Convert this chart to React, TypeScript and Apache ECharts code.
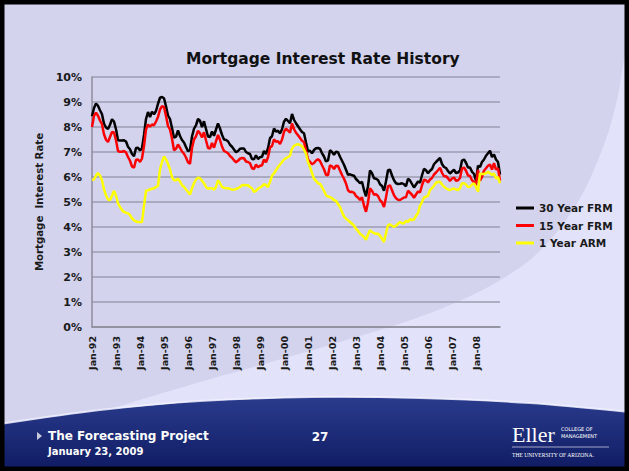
import React, { useEffect, useRef } from "react";
import * as echarts from "echarts";

const years = [1992, 1993, 1994, 1995, 1996, 1997, 1998, 1999, 2000, 2001, 2002, 2003, 2004, 2005, 2006, 2007, 2008, 2009];
const monthNames = ["Jan", "Feb", "Mar", "Apr", "May", "Jun", "Jul", "Aug", "Sep", "Oct", "Nov", "Dec"];
const yTicks = [0, 1, 2, 3, 4, 5, 6, 7, 8, 9, 10];

// 30 Year FRM, monthly, Jan-92 .. Jan-09
const frm30 = [
  8.43, 8.76, 8.94, 8.85, 8.67, 8.51, 8.13, 7.98, 7.92, 8.09, 8.31, 8.22,
  7.91, 7.47, 7.46, 7.46, 7.47, 7.42, 7.21, 7.11, 6.92, 6.83, 7.16, 7.17,
  7.06, 7.15, 7.68, 8.32, 8.6, 8.4, 8.61, 8.51, 8.64, 8.93, 9.17, 9.2,
  9.15, 8.83, 8.46, 8.32, 7.96, 7.57, 7.61, 7.86, 7.64, 7.48, 7.38, 7.2,
  7.03, 7.08, 7.62, 7.93, 8.07, 8.32, 8.25, 8.0, 8.23, 7.92, 7.62, 7.6,
  7.82, 7.65, 7.9, 8.14, 7.94, 7.69, 7.5, 7.48, 7.43, 7.29, 7.21, 7.1,
  6.99, 7.04, 7.13, 7.14, 7.14, 7.0, 6.95, 6.92, 6.72, 6.71, 6.87, 6.72,
  6.79, 6.81, 7.04, 6.92, 7.15, 7.55, 7.63, 7.94, 7.82, 7.85, 7.74, 7.91,
  8.21, 8.33, 8.24, 8.15, 8.52, 8.29, 8.15, 8.03, 7.91, 7.8, 7.75, 7.38,
  7.03, 7.05, 6.95, 7.08, 7.15, 7.16, 7.13, 6.95, 6.82, 6.62, 6.66, 7.07,
  7.0, 6.89, 7.01, 6.99, 6.81, 6.65, 6.49, 6.29, 6.09, 6.11, 6.07, 6.05,
  5.92, 5.84, 5.75, 5.81, 5.48, 5.23, 5.63, 6.26, 6.15, 5.95, 5.93, 5.88,
  5.71, 5.64, 5.45, 5.83, 6.27, 6.29, 6.06, 5.87, 5.75, 5.72, 5.73, 5.75,
  5.71, 5.63, 5.93, 5.86, 5.72, 5.58, 5.7, 5.82, 5.77, 6.07, 6.33, 6.27,
  6.15, 6.25, 6.32, 6.51, 6.6, 6.68, 6.76, 6.52, 6.4, 6.36, 6.24, 6.14,
  6.22, 6.29, 6.16, 6.18, 6.26, 6.66, 6.7, 6.57, 6.38, 6.38, 6.21, 6.12,
  5.85, 6.45, 6.4, 6.6, 6.7, 6.85, 6.95, 7.05, 6.8, 6.9, 6.7, 6.6,
  6.1,
];

// 15 Year FRM
const frm15 = [
  8.0, 8.45, 8.57, 8.45, 8.26, 8.11, 7.71, 7.49, 7.4, 7.6, 7.8, 7.78,
  7.47, 7.04, 7.01, 7.01, 7.04, 6.98, 6.8, 6.65, 6.42, 6.37, 6.69, 6.7,
  6.6, 6.74, 7.24, 7.9, 8.1, 8.01, 8.1, 8.07, 8.22, 8.4, 8.7, 8.83,
  8.8, 8.44, 8.04, 7.9, 7.54, 7.07, 7.13, 7.3, 7.17, 7.02, 6.93, 6.78,
  6.59, 6.53, 7.16, 7.5, 7.63, 7.85, 7.75, 7.58, 7.79, 7.47, 7.16, 7.14,
  7.36, 7.17, 7.43, 7.68, 7.48, 7.22, 7.04, 7.0, 6.95, 6.84, 6.77, 6.67,
  6.59, 6.65, 6.73, 6.76, 6.75, 6.62, 6.6, 6.55, 6.35, 6.32, 6.5, 6.39,
  6.45, 6.47, 6.7, 6.59, 6.79, 7.18, 7.24, 7.51, 7.41, 7.43, 7.32, 7.49,
  7.81, 7.93, 7.86, 7.77, 8.14, 7.92, 7.77, 7.67, 7.56, 7.45, 7.4, 7.05,
  6.7, 6.61, 6.51, 6.56, 6.66, 6.71, 6.64, 6.47, 6.31, 6.09, 6.07, 6.47,
  6.43, 6.32, 6.45, 6.44, 6.26, 6.08, 5.93, 5.74, 5.47, 5.4, 5.41, 5.37,
  5.24, 5.18, 5.08, 5.19, 4.86, 4.61, 4.98, 5.55, 5.45, 5.29, 5.31, 5.24,
  5.07, 4.99, 4.8, 5.19, 5.63, 5.67, 5.47, 5.27, 5.15, 5.09, 5.08, 5.13,
  5.18, 5.19, 5.45, 5.37, 5.29, 5.17, 5.3, 5.42, 5.38, 5.67, 5.89, 5.87,
  5.78, 5.9, 5.96, 6.1, 6.18, 6.27, 6.37, 6.17, 6.03, 6.03, 5.95, 5.84,
  5.94, 5.98, 5.85, 5.87, 5.96, 6.34, 6.38, 6.25, 6.06, 6.04, 5.87, 5.8,
  5.68, 6.28, 5.85, 6.0, 6.25, 6.35, 6.45, 6.5, 6.3, 6.55, 6.3, 6.35,
  5.85,
];

// 1 Year ARM
const arm1 = [
  5.89, 5.9, 6.05, 6.16, 6.05, 5.87, 5.5, 5.27, 5.1, 5.07, 5.25, 5.45,
  5.25, 4.95, 4.8, 4.68, 4.6, 4.57, 4.55, 4.48, 4.35, 4.27, 4.22, 4.2,
  4.2, 4.2, 4.85, 5.45, 5.47, 5.5, 5.53, 5.55, 5.6, 5.65, 6.3, 6.6,
  6.82, 6.7, 6.53, 6.3, 6.0, 5.87, 5.87, 5.93, 5.82, 5.67, 5.6, 5.5,
  5.4, 5.3, 5.55, 5.75, 5.9, 5.97, 5.95, 5.85, 5.75, 5.6, 5.53, 5.55,
  5.55, 5.49, 5.6, 5.87, 5.75, 5.6, 5.57, 5.55, 5.55, 5.53, 5.49, 5.5,
  5.52, 5.55, 5.6, 5.67, 5.68, 5.67, 5.67, 5.6, 5.55, 5.4, 5.45, 5.53,
  5.58, 5.63, 5.71, 5.68, 5.6, 5.8, 6.05, 6.15, 6.27, 6.4, 6.5, 6.6,
  6.7, 6.75, 6.8, 6.85, 7.13, 7.25, 7.29, 7.31, 7.28, 7.23, 7.1, 6.93,
  6.6, 6.4, 6.15, 5.93, 5.85, 5.75, 5.72, 5.6, 5.45, 5.27, 5.22, 5.2,
  5.15, 5.07, 5.05, 4.92, 4.8, 4.6, 4.42, 4.33, 4.27, 4.2, 4.13, 4.05,
  3.93, 3.85, 3.73, 3.67, 3.6, 3.49, 3.7, 3.87, 3.8, 3.75, 3.73, 3.73,
  3.65, 3.53, 3.4, 3.75, 4.07, 4.1, 4.05, 4.0, 4.05, 4.13, 4.2, 4.15,
  4.15, 4.25, 4.2, 4.31, 4.28, 4.3, 4.45, 4.55, 4.85, 5.0, 5.18, 5.21,
  5.25, 5.48, 5.55, 5.65, 5.77, 5.8, 5.81, 5.7, 5.61, 5.55, 5.5, 5.48,
  5.52, 5.54, 5.5, 5.48, 5.55, 5.75, 5.75, 5.7, 5.6, 5.61, 5.7, 5.75,
  5.6, 5.41, 6.14, 6.12, 6.12, 6.15, 6.21, 6.15, 6.08, 6.14, 5.94, 6.0,
  5.75,
];

const seriesNames = ["30 Year FRM", "15 Year FRM", "1 Year ARM"];
const seriesColors = ["#000000", "#ff0000", "#ffff00"];

const categories: string[] = [];
for (const y of years) {
  for (const m of monthNames) {
    if (categories.length < frm30.length) categories.push(`${m}-${String(y).slice(2)}`);
  }
}

const FONT = "DejaVu Sans";

export default function App() {
  const ref = useRef<HTMLDivElement>(null);
  useEffect(() => {
    const chart = echarts.init(ref.current!, null, { renderer: "svg" });
    const arcPts = [
      [632, 20], [627, 45], [623, 65], [618, 95], [610, 127], [598, 160], [583, 193],
      [560, 228], [530, 260], [490, 286], [450, 305], [405, 322], [330, 345], [257, 366],
      [190, 385], [133, 402], [80, 420], [40, 440], [632, 471],
    ];
    const footerPts = [
      [0, 424], [100, 410], [200, 401], [313, 397], [420, 398], [530, 403], [629, 412],
    ];
    const option: any = {
      animation: false,
      backgroundColor: "#d3d3ee",
      title: {
        text: "Mortgage Interest Rate History",
        left: 181,
        top: 46,
        textStyle: { fontFamily: FONT, fontWeight: "bold", fontSize: 15.5, color: "#111" },
      },
      legend: {
        orient: "vertical",
        left: 511,
        top: 197,
        icon: "rect",
        itemWidth: 18,
        itemHeight: 3,
        itemGap: 5.5,
        data: seriesNames,
        textStyle: { fontFamily: FONT, fontWeight: "bold", fontSize: 10.5, color: "#1a1a1a", lineHeight: 12 },
      },
      grid: { left: 92, right: 129, top: 77, bottom: 144, containLabel: false },
      xAxis: {
        type: "category",
        data: categories,
        boundaryGap: false,
        axisLine: { show: true, lineStyle: { color: "#8c8c98", width: 1.5 } },
        axisTick: { show: false },
        splitLine: { show: false },
        axisLabel: {
          interval: (idx: number) => idx % 12 === 0 && idx < categories.length - 1,
          rotate: 90,
          margin: 9,
          fontFamily: FONT,
          fontWeight: "bold",
          fontSize: 9.5,
          color: "#1a1a1a",
        },
      },
      yAxis: {
        type: "value",
        min: yTicks[0],
        max: yTicks[yTicks.length - 1],
        interval: 1,
        name: "Mortgage  Interest Rate",
        nameLocation: "middle",
        nameGap: 46,
        nameTextStyle: { fontFamily: FONT, fontWeight: "bold", fontSize: 10.2, color: "#1a1a1a" },
        axisLine: { show: true, lineStyle: { color: "#8c8c98", width: 1.5 } },
        axisTick: { show: false },
        splitLine: { show: true, lineStyle: { color: "#9d9db0", width: 1.5 } },
        axisLabel: {
          formatter: "{value}%",
          margin: 10,
          fontFamily: FONT,
          fontWeight: "bold",
          fontSize: 11,
          color: "#1a1a1a",
        },
      },
      series: [frm30, frm15, arm1].map((d, i) => ({
        name: seriesNames[i],
        type: "line",
        data: d,
        showSymbol: false,
        symbol: "none",
        color: seriesColors[i],
        lineStyle: { color: seriesColors[i], width: 2.5 },
        z: 3 + i,
      })),
      graphic: [
        {
          type: "polygon",
          z: -10,
          silent: true,
          shape: { points: arcPts, smooth: 0.3 },
          style: { fill: "#e2e2fa" },
        },
        {
          type: "polygon",
          z: 100,
          silent: true,
          shape: { points: [...footerPts, [629, 471], [0, 471]] },
          style: {
            fill: new echarts.graphic.LinearGradient(0, 0, 0, 1, [
              { offset: 0, color: "#2b3c8e" },
              { offset: 1, color: "#0f1b62" },
            ]),
          },
        },
        {
          type: "polyline",
          z: 101,
          silent: true,
          shape: { points: footerPts, smooth: 0.3 },
          style: { stroke: "#f2f2ff", lineWidth: 2, opacity: 0.8, fill: "none" },
        },
        {
          type: "polygon",
          z: 102,
          silent: true,
          shape: { points: [[37, 432], [42, 436], [37, 440]] },
          style: { fill: "#c9c9dc" },
        },
        {
          type: "text",
          z: 102,
          x: 48,
          y: 436,
          style: { text: "The Forecasting Project", fill: "#ffffff", font: `bold 12px "${FONT}"`, verticalAlign: "middle" },
        },
        {
          type: "text",
          z: 102,
          x: 48,
          y: 451,
          style: { text: "January 23, 2009", fill: "#ffffff", font: `bold 10px "${FONT}"`, verticalAlign: "middle" },
        },
        {
          type: "text",
          z: 102,
          x: 320,
          y: 437,
          style: { text: "27", fill: "#ffffff", font: `bold 12px "${FONT}"`, align: "center", verticalAlign: "middle" },
        },
        {
          type: "text",
          z: 102,
          x: 512,
          y: 434,
          style: { text: "Eller", fill: "#ffffff", font: `22px "Liberation Serif"`, verticalAlign: "middle" },
        },
        {
          type: "text",
          z: 102,
          x: 561,
          y: 429,
          style: { text: "COLLEGE OF", fill: "#ffffff", font: `5px "${FONT}"`, verticalAlign: "middle" },
        },
        {
          type: "text",
          z: 102,
          x: 561,
          y: 436,
          style: { text: "MANAGEMENT", fill: "#ffffff", font: `5px "${FONT}"`, verticalAlign: "middle" },
        },
        {
          type: "line",
          z: 102,
          shape: { x1: 512, y1: 447, x2: 609, y2: 447 },
          style: { stroke: "#c8c8e0", lineWidth: 0.8 },
        },
        {
          type: "text",
          z: 102,
          x: 512,
          y: 455,
          style: { text: "THE UNIVERSITY OF ARIZONA.", fill: "#ffffff", font: `5.6px "Liberation Serif"`, verticalAlign: "middle" },
        },
        {
          type: "rect",
          z: 110,
          silent: true,
          shape: { x: 2, y: 2, width: 625, height: 467 },
          style: { fill: "none", stroke: "#000000", lineWidth: 5 },
        },
      ],
    };
    chart.setOption(option);
    return () => chart.dispose();
  }, []);
  return (
    <div
      ref={ref}
      style={{ position: "fixed", left: 0, top: 0, width: 629, height: 471 }}
    />
  );
}
